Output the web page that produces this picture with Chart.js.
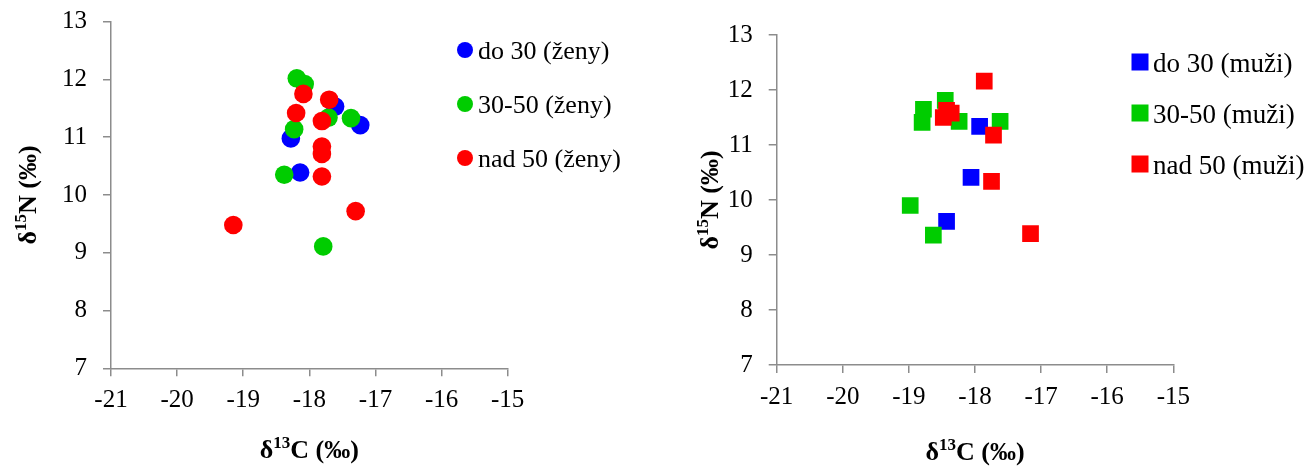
<!DOCTYPE html>
<html>
<head>
<meta charset="utf-8">
<script src="https://cdn.jsdelivr.net/npm/chart.js@4.4.1/dist/chart.umd.min.js"></script>
<style>
  html, body { margin: 0; padding: 0; background: #ffffff; }
  #wrap { position: relative; width: 1315px; height: 468px; overflow: hidden; }
  canvas { position: absolute; top: 0; }
  #womenChart { left: 0; }
  #menChart { left: 657px; }
</style>
</head>
<body>
<div id="wrap">
  <canvas id="womenChart" width="657" height="468"></canvas>
  <canvas id="menChart" width="658" height="468"></canvas>
</div>
<script>
// Axis ticks (δ13C on x, δ15N on y)
const xTickValues = [-21, -20, -19, -18, -17, -16, -15];
const yTickValues = [7, 8, 9, 10, 11, 12, 13];

// Age groups
const groupNames = ['do 30', '30-50', 'nad 50'];
const womenTag = 'ženy';
const menTag = 'muži';

// Women: δ13C and δ15N per age group
const womenUnder30C = [-17.61, -17.23, -18.28, -18.14];
const womenUnder30N = [11.53, 11.21, 10.98, 10.39];
const women30to50C = [-18.19, -18.07, -17.71, -17.37, -18.23, -18.38, -17.79];
const women30to50N = [12.02, 11.92, 11.34, 11.33, 11.14, 10.35, 9.11];
const womenOver50C = [-18.09, -17.70, -18.20, -17.81, -17.81, -17.81, -17.81, -17.30, -19.15];
const womenOver50N = [11.75, 11.65, 11.42, 11.28, 10.84, 10.71, 10.32, 9.72, 9.48];

// Men: δ13C and δ15N per age group
const menUnder30C = [-17.93, -18.06, -18.43];
const menUnder30N = [11.34, 10.41, 9.61];
const men30to50C = [-18.45, -18.78, -18.80, -18.24, -17.62, -18.98, -18.63];
const men30to50N = [11.81, 11.65, 11.41, 11.43, 11.43, 9.90, 9.36];
const menOver50C = [-17.86, -18.43, -18.36, -18.48, -17.72, -17.75, -17.16];
const menOver50N = [12.16, 11.63, 11.58, 11.50, 11.18, 10.34, 9.39];

const groupColors = ['#0000ff', '#00cc00', '#ff0000'];
const AXIS_COLOR = '#8c8c8c';
const SERIF = "'Liberation Serif', 'Times New Roman', serif";
const Y_AXIS_W = 70;
const X_AXIS_H = 50;

function pairs(xs, ys) {
  return xs.map((x, i) => ({ x: x, y: ys[i] }));
}

function buildDatasets(tag, groups, style, radius) {
  return groups.map((g, i) => ({
    label: groupNames[i] + ' (' + tag + ')',
    data: pairs(g[0], g[1]),
    backgroundColor: groupColors[i],
    borderColor: groupColors[i],
    borderWidth: 0,
    pointStyle: style,
    pointRadius: radius,
    pointHoverRadius: radius,
    pointBorderWidth: 0,
    order: groups.length - i
  }));
}

// Draws text with superscript runs: parts = [[text, isSup], ...]
function drawRich(ctx, parts, cx, baseY, size) {
  const main = 'bold ' + size + 'px ' + SERIF;
  const sup = 'bold ' + Math.round(size * 0.65) + 'px ' + SERIF;
  let total = 0;
  parts.forEach(p => { ctx.font = p[1] ? sup : main; total += ctx.measureText(p[0]).width; });
  let x = cx - total / 2;
  ctx.textAlign = 'left';
  ctx.textBaseline = 'alphabetic';
  parts.forEach(p => {
    ctx.font = p[1] ? sup : main;
    ctx.fillText(p[0], x, p[1] ? baseY - size * 0.38 : baseY);
    x += ctx.measureText(p[0]).width;
  });
}

const axisTitles = {
  id: 'axisTitles',
  afterDraw(chart, args, opts) {
    const ctx = chart.ctx;
    const a = chart.chartArea;
    ctx.save();
    ctx.fillStyle = '#000';
    drawRich(ctx, [['δ', false], ['13', true], ['C (‰)', false]], (a.left + a.right) / 2, a.bottom + opts.xOffset, opts.size);
    ctx.translate(a.left - opts.yOffset, (a.top + a.bottom) / 2);
    ctx.rotate(-Math.PI / 2);
    drawRich(ctx, [['δ', false], ['15', true], ['N (‰)', false]], 0, 0, opts.size);
    ctx.restore();
  }
};

const sideLegend = {
  id: 'sideLegend',
  afterDraw(chart, args, opts) {
    const ctx = chart.ctx;
    ctx.save();
    chart.data.datasets.forEach((ds, i) => {
      const y = opts.y + i * opts.step;
      ctx.fillStyle = ds.backgroundColor;
      if (ds.pointStyle === 'rect') {
        ctx.fillRect(opts.x - opts.marker / 2, y - opts.marker / 2, opts.marker, opts.marker);
      } else {
        ctx.beginPath();
        ctx.arc(opts.x, y, opts.marker / 2, 0, Math.PI * 2);
        ctx.fill();
      }
      ctx.fillStyle = '#000';
      ctx.font = opts.size + 'px ' + SERIF;
      ctx.textAlign = 'left';
      ctx.textBaseline = 'alphabetic';
      ctx.fillText(ds.label, opts.textX, y + opts.size * 0.36);
    });
    ctx.restore();
  }
};

// Axis boxes keep a fixed size and add no extra edge padding to the plot area
function fixX(s) { s.height = X_AXIS_H; s.paddingLeft = 0; s.paddingRight = 0; s.paddingTop = 0; s.paddingBottom = 0; }
function fixY(s) { s.width = Y_AXIS_W; s.paddingLeft = 0; s.paddingRight = 0; s.paddingTop = 0; s.paddingBottom = 0; }

function makeChart(canvas, datasets, area, legendOpts, titleOpts) {
  const tickFont = { family: SERIF, size: 25 };
  const gridOpts = { drawOnChartArea: false, drawTicks: true, tickLength: 8, color: AXIS_COLOR, lineWidth: 1.5 };
  return new Chart(canvas, {
    type: 'scatter',
    data: { datasets: datasets },
    options: {
      responsive: false,
      animation: false,
      devicePixelRatio: 1,
      events: [],
      layout: {
        padding: {
          left: area.left - Y_AXIS_W,
          top: area.top,
          right: canvas.width - area.right,
          bottom: canvas.height - area.bottom - X_AXIS_H
        }
      },
      plugins: {
        legend: { display: false },
        tooltip: { enabled: false },
        axisTitles: titleOpts,
        sideLegend: legendOpts
      },
      scales: {
        x: {
          type: 'linear',
          min: xTickValues[0],
          max: xTickValues[xTickValues.length - 1],
          afterBuildTicks: s => { s.ticks = xTickValues.map(v => ({ value: v })); },
          afterFit: fixX,
          grid: gridOpts,
          border: { color: AXIS_COLOR, width: 1.5 },
          ticks: { font: tickFont, color: '#000', padding: 9, maxRotation: 0 }
        },
        y: {
          type: 'linear',
          min: yTickValues[0],
          max: yTickValues[yTickValues.length - 1],
          afterBuildTicks: s => { s.ticks = yTickValues.map(v => ({ value: v })); },
          afterFit: fixY,
          grid: gridOpts,
          border: { color: AXIS_COLOR, width: 1.5 },
          ticks: { font: tickFont, color: '#000', padding: 16 }
        }
      }
    },
    plugins: [axisTitles, sideLegend]
  });
}

makeChart(
  document.getElementById('womenChart'),
  buildDatasets(womenTag, [[womenUnder30C, womenUnder30N], [women30to50C, women30to50N], [womenOver50C, womenOver50N]], 'circle', 9.3),
  { left: 111, right: 507.7, top: 21.7, bottom: 368.3 },
  { x: 465, y: 50, step: 54, marker: 16, textX: 478, size: 26 },
  { xOffset: 90, yOffset: 75, size: 26 }
);

makeChart(
  document.getElementById('menChart'),
  buildDatasets(menTag, [[menUnder30C, menUnder30N], [men30to50C, men30to50N], [menOver50C, menOver50N]], 'rect', 11.8),
  { left: 119.7, right: 516.3, top: 35, bottom: 365 },
  { x: 483, y: 62, step: 51, marker: 17, textX: 496, size: 27 },
  { xOffset: 95, yOffset: 59, size: 26 }
);
</script>
</body>
</html>
